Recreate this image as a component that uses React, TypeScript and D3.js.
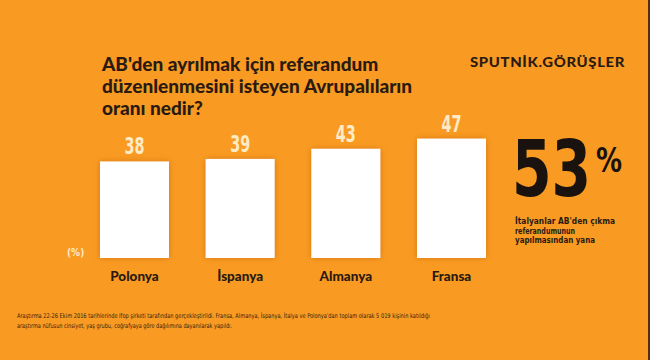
import React, { useRef, useEffect } from "react";
import * as d3 from "d3";

const categories = ["Polonya", "İspanya", "Almanya", "Fransa"];
const values = [38, 39, 43, 47];
const titleLines = [
  "AB'den ayrılmak için referandum",
  "düzenlenmesini isteyen Avrupalıların",
  "oranı nedir?",
];
const highlightValue = 53;
const highlightLines = [
  "İtalyanlar AB'den çıkma",
  "referandumunun",
  "yapılmasından yana",
];
const highlightWidths = [100, 60, 80];
const noteLines = [
  "Araştırma 22-26 Ekim 2016 tarihlerinde Ifop şirketi tarafından gerçekleştirildi. Fransa, Almanya, İspanya, İtalya ve Polonya'dan toplam olarak 5 019 kişinin katıldığı",
  "araştırma nüfusun cinsiyet, yaş grubu, coğrafyaya göre dağılımına dayanılarak yapıldı.",
];

const W = 650;
const H = 360;
const condensed = "'DejaVu Sans Condensed', 'Liberation Sans Narrow', 'DejaVu Sans', sans-serif";

const App: React.FC = () => {
  const ref = useRef<SVGSVGElement>(null);

  useEffect(() => {
    if (!ref.current) return;
    const svg = d3.select(ref.current);
    svg.selectAll("*").remove();

    const defs = svg.append("defs");
    defs
      .append("filter")
      .attr("id", "shadow")
      .attr("x", "-20%")
      .attr("y", "-20%")
      .attr("width", "140%")
      .attr("height", "140%")
      .append("feDropShadow")
      .attr("dx", 0)
      .attr("dy", 0)
      .attr("stdDeviation", 3)
      .attr("flood-color", "#b85400")
      .attr("flood-opacity", 0.55);

    svg.append("rect").attr("width", W).attr("height", H).attr("fill", "#f99b22");
    svg.append("rect").attr("x", W - 2).attr("width", 2).attr("height", H).attr("fill", "#5a2a10");

    // title
    svg
      .append("g")
      .selectAll("text")
      .data(titleLines)
      .join("text")
      .attr("x", 102)
      .attr("y", (_, i) => 71 + i * 22)
      .attr("font-family", "Lato, 'Open Sans', sans-serif")
      .attr("font-weight", 900)
      .attr("font-size", 19)
      .attr("fill", "#2a1a12")
      .text((d) => d);

    svg
      .append("text")
      .attr("x", 470)
      .attr("y", 67)
      .attr("font-family", "Lato, sans-serif")
      .attr("font-weight", 900)
      .attr("font-size", 14)
      .attr("letter-spacing", 0.6)
      .attr("fill", "#2a1a12")
      .attr("textLength", 155)
      .attr("lengthAdjust", "spacingAndGlyphs")
      .text("SPUTNİK.GÖRÜŞLER");

    const x = d3
      .scaleBand<string>()
      .domain(categories)
      .range([100, 486])
      .paddingInner(0.347)
      .paddingOuter(0);
    const y = d3.scaleLinear().domain([0, 50]).range([258, 131]);

    const g = svg.append("g");
    g.selectAll("rect")
      .data(values)
      .join("rect")
      .attr("x", (_, i) => x(categories[i])!)
      .attr("y", (d) => y(d))
      .attr("width", x.bandwidth())
      .attr("height", (d) => y(0) - y(d))
      .attr("fill", "#ffffff")
      .attr("filter", "url(#shadow)");

    g.selectAll("text.val")
      .data(values)
      .join("text")
      .attr("class", "val")
      .attr("x", (_, i) => x(categories[i])! + x.bandwidth() / 2)
      .attr("y", (d) => y(d) - 7)
      .attr("text-anchor", "middle")
      .attr("font-family", condensed)
      .attr("font-weight", "bold")
      .attr("font-size", 23)
      .attr("fill", "#fdebc8")
      .attr("textLength", 20)
      .attr("lengthAdjust", "spacingAndGlyphs")
      .text((d) => d);

    g.selectAll("text.cat")
      .data(categories)
      .join("text")
      .attr("class", "cat")
      .attr("x", (d) => x(d)! + x.bandwidth() / 2)
      .attr("y", 281)
      .attr("text-anchor", "middle")
      .attr("font-family", "Lato, sans-serif")
      .attr("font-weight", 900)
      .attr("font-size", 13.5)
      .attr("fill", "#2a1a12")
      .text((d) => d);

    svg
      .append("text")
      .attr("x", 67)
      .attr("y", 256)
      .attr("font-family", condensed)
      .attr("font-weight", "bold")
      .attr("font-size", 10)
      .attr("fill", "#fdebc8")
      .text("(%)");

    // highlight figure, squeezed horizontally with a transform
    svg
      .append("text")
      .attr("transform", "translate(512,196) scale(0.8,1)")
      .attr("font-family", condensed)
      .attr("font-weight", "bold")
      .attr("font-size", 79)
      .attr("fill", "#1a120e")
      .text(highlightValue);
    svg
      .append("text")
      .attr("transform", "translate(596,172) scale(0.85,1)")
      .attr("font-family", condensed)
      .attr("font-weight", "bold")
      .attr("font-size", 34)
      .attr("fill", "#1a120e")
      .text("%");

    svg
      .append("g")
      .selectAll("text")
      .data(highlightLines)
      .join("text")
      .attr("x", 515)
      .attr("y", (_, i) => 224 + i * 9.5)
      .attr("font-family", condensed)
      .attr("font-weight", "bold")
      .attr("font-size", 9.5)
      .attr("fill", "#2a1a12")
      .attr("textLength", (_, i) => highlightWidths[i])
      .attr("lengthAdjust", "spacingAndGlyphs")
      .text((d) => d);

    // footnote
    svg
      .append("g")
      .selectAll("text")
      .data(noteLines)
      .join("text")
      .attr("x", 17)
      .attr("y", (_, i) => 318 + i * 9.5)
      .attr("font-family", condensed)
      .attr("font-size", 6.5)
      .attr("fill", "#3a2210")
      .attr("textLength", (_, i) => (i === 0 ? 413 : 215))
      .attr("lengthAdjust", "spacingAndGlyphs")
      .text((d) => d);
  }, []);

  return (
    <svg
      ref={ref}
      width={W}
      height={H}
      style={{ position: "absolute", left: 0, top: 0, display: "block" }}
    ></svg>
  );
};

export default App;
